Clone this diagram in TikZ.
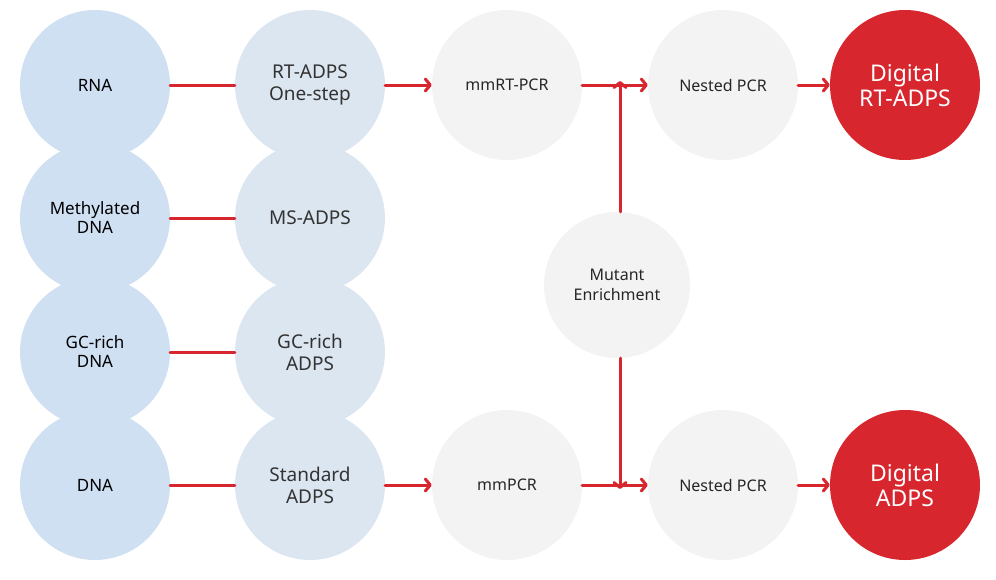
\documentclass[tikz,border=0pt]{standalone}
\usepackage{fontspec}
\setmainfont{Noto Sans}
\usetikzlibrary{arrows.meta}
\definecolor{srcblue}{HTML}{CFE0F3}
\definecolor{kitblue}{HTML}{DCE6F1}
\definecolor{stepgray}{HTML}{F3F3F3}
\definecolor{adpsred}{HTML}{D7262E}
\begin{document}
\begin{tikzpicture}[x=1pt,y=-1pt,
  src/.style={circle,fill=srcblue,minimum size=150pt,inner sep=0pt,align=center,font=\fontsize{17}{19}\selectfont\bfseries},
  kit/.style={circle,fill=kitblue,minimum size=150pt,inner sep=0pt,align=center,font=\fontsize{19}{22}\selectfont,text=black!80},
  pcr/.style={circle,fill=stepgray,minimum size=150pt,inner sep=0pt,align=center,font=\fontsize{16}{20}\selectfont,text=black!85},
  result/.style={circle,fill=adpsred,minimum size=150pt,inner sep=0pt,align=center,text=white,font=\fontsize{23}{25}\selectfont},
  link/.style={adpsred,line width=3pt,line cap=round},
  flow/.style={link,-{Straight Barb[length=5pt,width=12pt,round]}}]
\useasboundingbox (0,0) rectangle (996,579);

% Sources
\node[src] (rna) at (95,85) {RNA};
\node[src] (meth) at (95,218) {Methylated\\DNA};
\node[src] (gc) at (95,352) {GC-rich\\DNA};
\node[src] (dna) at (95,485) {DNA};

% Kits
\node[kit] (rt) at (310,85) {RT-ADPS\\One-step};
\node[kit] (ms) at (310,218) {MS-ADPS};
\node[kit] (gck) at (310,352) {GC-rich\\ADPS};
\node[kit] (std) at (310,485) {Standard\\ADPS};

% PCR steps
\node[pcr] (mmrt) at (507,85) {mmRT-PCR};
\node[pcr] (mm) at (507,485) {mmPCR};
\node[pcr,minimum size=146pt] (mut) at (617,285) {Mutant\\Enrichment};
\node[pcr] (nest1) at (723,85) {Nested PCR};
\node[pcr] (nest2) at (723,485) {Nested PCR};

% Results
\node[result] (drt) at (905,85) {Digital\\RT-ADPS};
\node[result] (dadps) at (905,485) {Digital\\ADPS};

\coordinate (j1) at (620,85);
\coordinate (j2) at (620,485);

\draw[link] (rna) -- (rt);
\draw[link] (meth) -- (ms);
\draw[link] (gc) -- (gck);
\draw[link] (dna) -- (std);
\draw[flow] (rt) -- (mmrt);
\draw[flow] (std) -- (mm);
\draw[flow] (mmrt) -- (nest1);
\draw[flow] (mm) -- (nest2);
\draw[flow] (mut.north -| j1) -- ([yshift=4pt]j1);
\draw[flow] (mut.south -| j2) -- ([yshift=-4pt]j2);
\draw[flow] (nest1) -- (drt);
\draw[flow] (nest2) -- (dadps);
\end{tikzpicture}
\end{document}
